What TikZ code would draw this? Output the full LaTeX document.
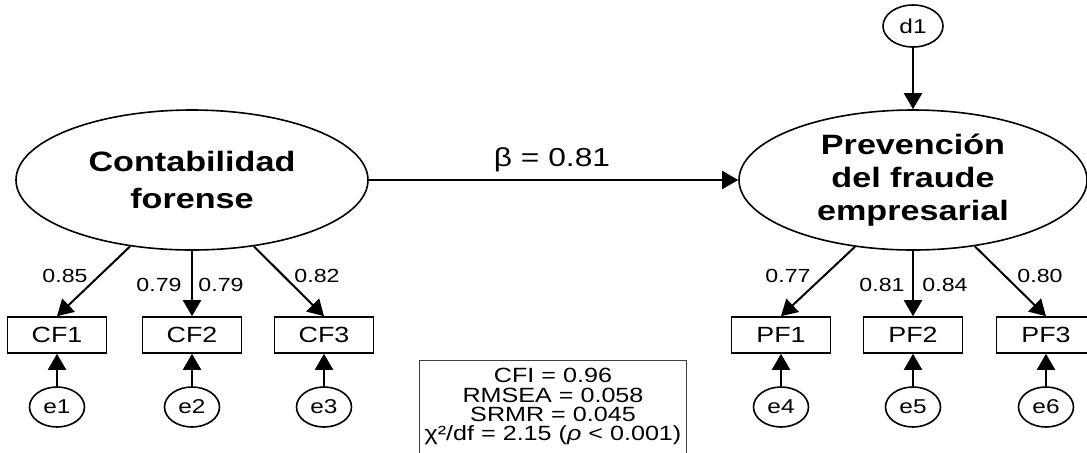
\documentclass[tikz,border=0pt]{standalone}
\usepackage{fontspec}
\setmainfont[FakeStretch=1.22]{Liberation Sans}
\usetikzlibrary{shapes.geometric,arrows.meta}
\begin{document}
\begin{tikzpicture}[x=0.5pt,y=-0.5pt,
  latent/.style={ellipse,draw,line width=0.8pt,minimum width=176pt,minimum height=70pt,inner sep=0pt,align=center,font=\fontsize{14}{18.5}\selectfont\bfseries},
  obs/.style={rectangle,draw,line width=0.8pt,minimum width=49.5pt,minimum height=18pt,inner sep=0pt,font=\fontsize{11}{13}\selectfont},
  err/.style={ellipse,draw,line width=0.8pt,minimum width=27.5pt,minimum height=20pt,inner sep=0pt,font=\fontsize{10}{12}\selectfont},
  arr/.style={line width=1pt,-{Triangle[length=8pt,width=9pt]}},
  load/.style={inner sep=0pt,font=\fontsize{9.5}{11}\selectfont},
]
\useasboundingbox (0,0) rectangle (1087,452);

% latent variables
\node[latent] (L) at (192,180) {Contabilidad\\forense};
\node[latent,minimum width=174pt,font=\fontsize{14}{16.5}\selectfont\bfseries] (R) at (913,180) {Prevención\\del fraude\\empresarial};
\node[err,minimum width=30pt,minimum height=21pt] (d1) at (913,26) {d1};

% indicators
\node[obs] (CF1) at (57,335) {CF1};
\node[obs] (CF2) at (192,335) {CF2};
\node[obs] (CF3) at (324,335) {CF3};
\node[obs] (PF1) at (781,335) {PF1};
\node[obs] (PF2) at (913,335) {PF2};
\node[obs] (PF3) at (1046,335) {PF3};

% errors
\node[err] (e1) at (57,407) {e1};
\node[err] (e2) at (192,407) {e2};
\node[err] (e3) at (324,407) {e3};
\node[err] (e4) at (781,407) {e4};
\node[err] (e5) at (913,407) {e5};
\node[err] (e6) at (1046,407) {e6};

% structural path
\draw[arr] (L.east) -- (R.west);
\node[inner sep=0pt,font=\fontsize{13}{15}\selectfont] (beta) at (552,160) {β = 0.81};
\draw[arr] (d1) -- (R);

% loadings
\draw[arr] (L.227) -- (CF1.north);
\draw[arr] (L.south) -- (CF2.north);
\draw[arr] (L.313) -- (CF3.north);
\draw[arr] (R.229) -- (PF1.north);
\draw[arr] (R.south) -- (PF2.north);
\draw[arr] (R.313) -- (PF3.north);

\node[load] (l1) at (65,276) {0.85};
\node[load] (l2) at (159,285) {0.79};
\node[load] (l3) at (221,285) {0.79};
\node[load] (l4) at (317,276) {0.82};
\node[load] (l5) at (788,276) {0.77};
\node[load] (l6) at (882,285) {0.81};
\node[load] (l7) at (945,285) {0.84};
\node[load] (l8) at (1040,276) {0.80};

% error arrows
\draw[arr] (e1) -- (CF1);
\draw[arr] (e2) -- (CF2);
\draw[arr] (e3) -- (CF3);
\draw[arr] (e4) -- (PF1);
\draw[arr] (e5) -- (PF2);
\draw[arr] (e6) -- (PF3);

% fit indices
\node[draw=black!75,line width=0.5pt,anchor=north,minimum width=133.5pt,minimum height=50pt,inner sep=0pt,text depth=6pt,align=center,font=\fontsize{10.3}{9.7}\selectfont] (fit) at (553,360)
  {CFI = 0.96\\RMSEA = 0.058\\SRMR = 0.045\\χ²/df = 2.15 (\textit{ρ} < 0.001)};
\end{tikzpicture}
\end{document}
